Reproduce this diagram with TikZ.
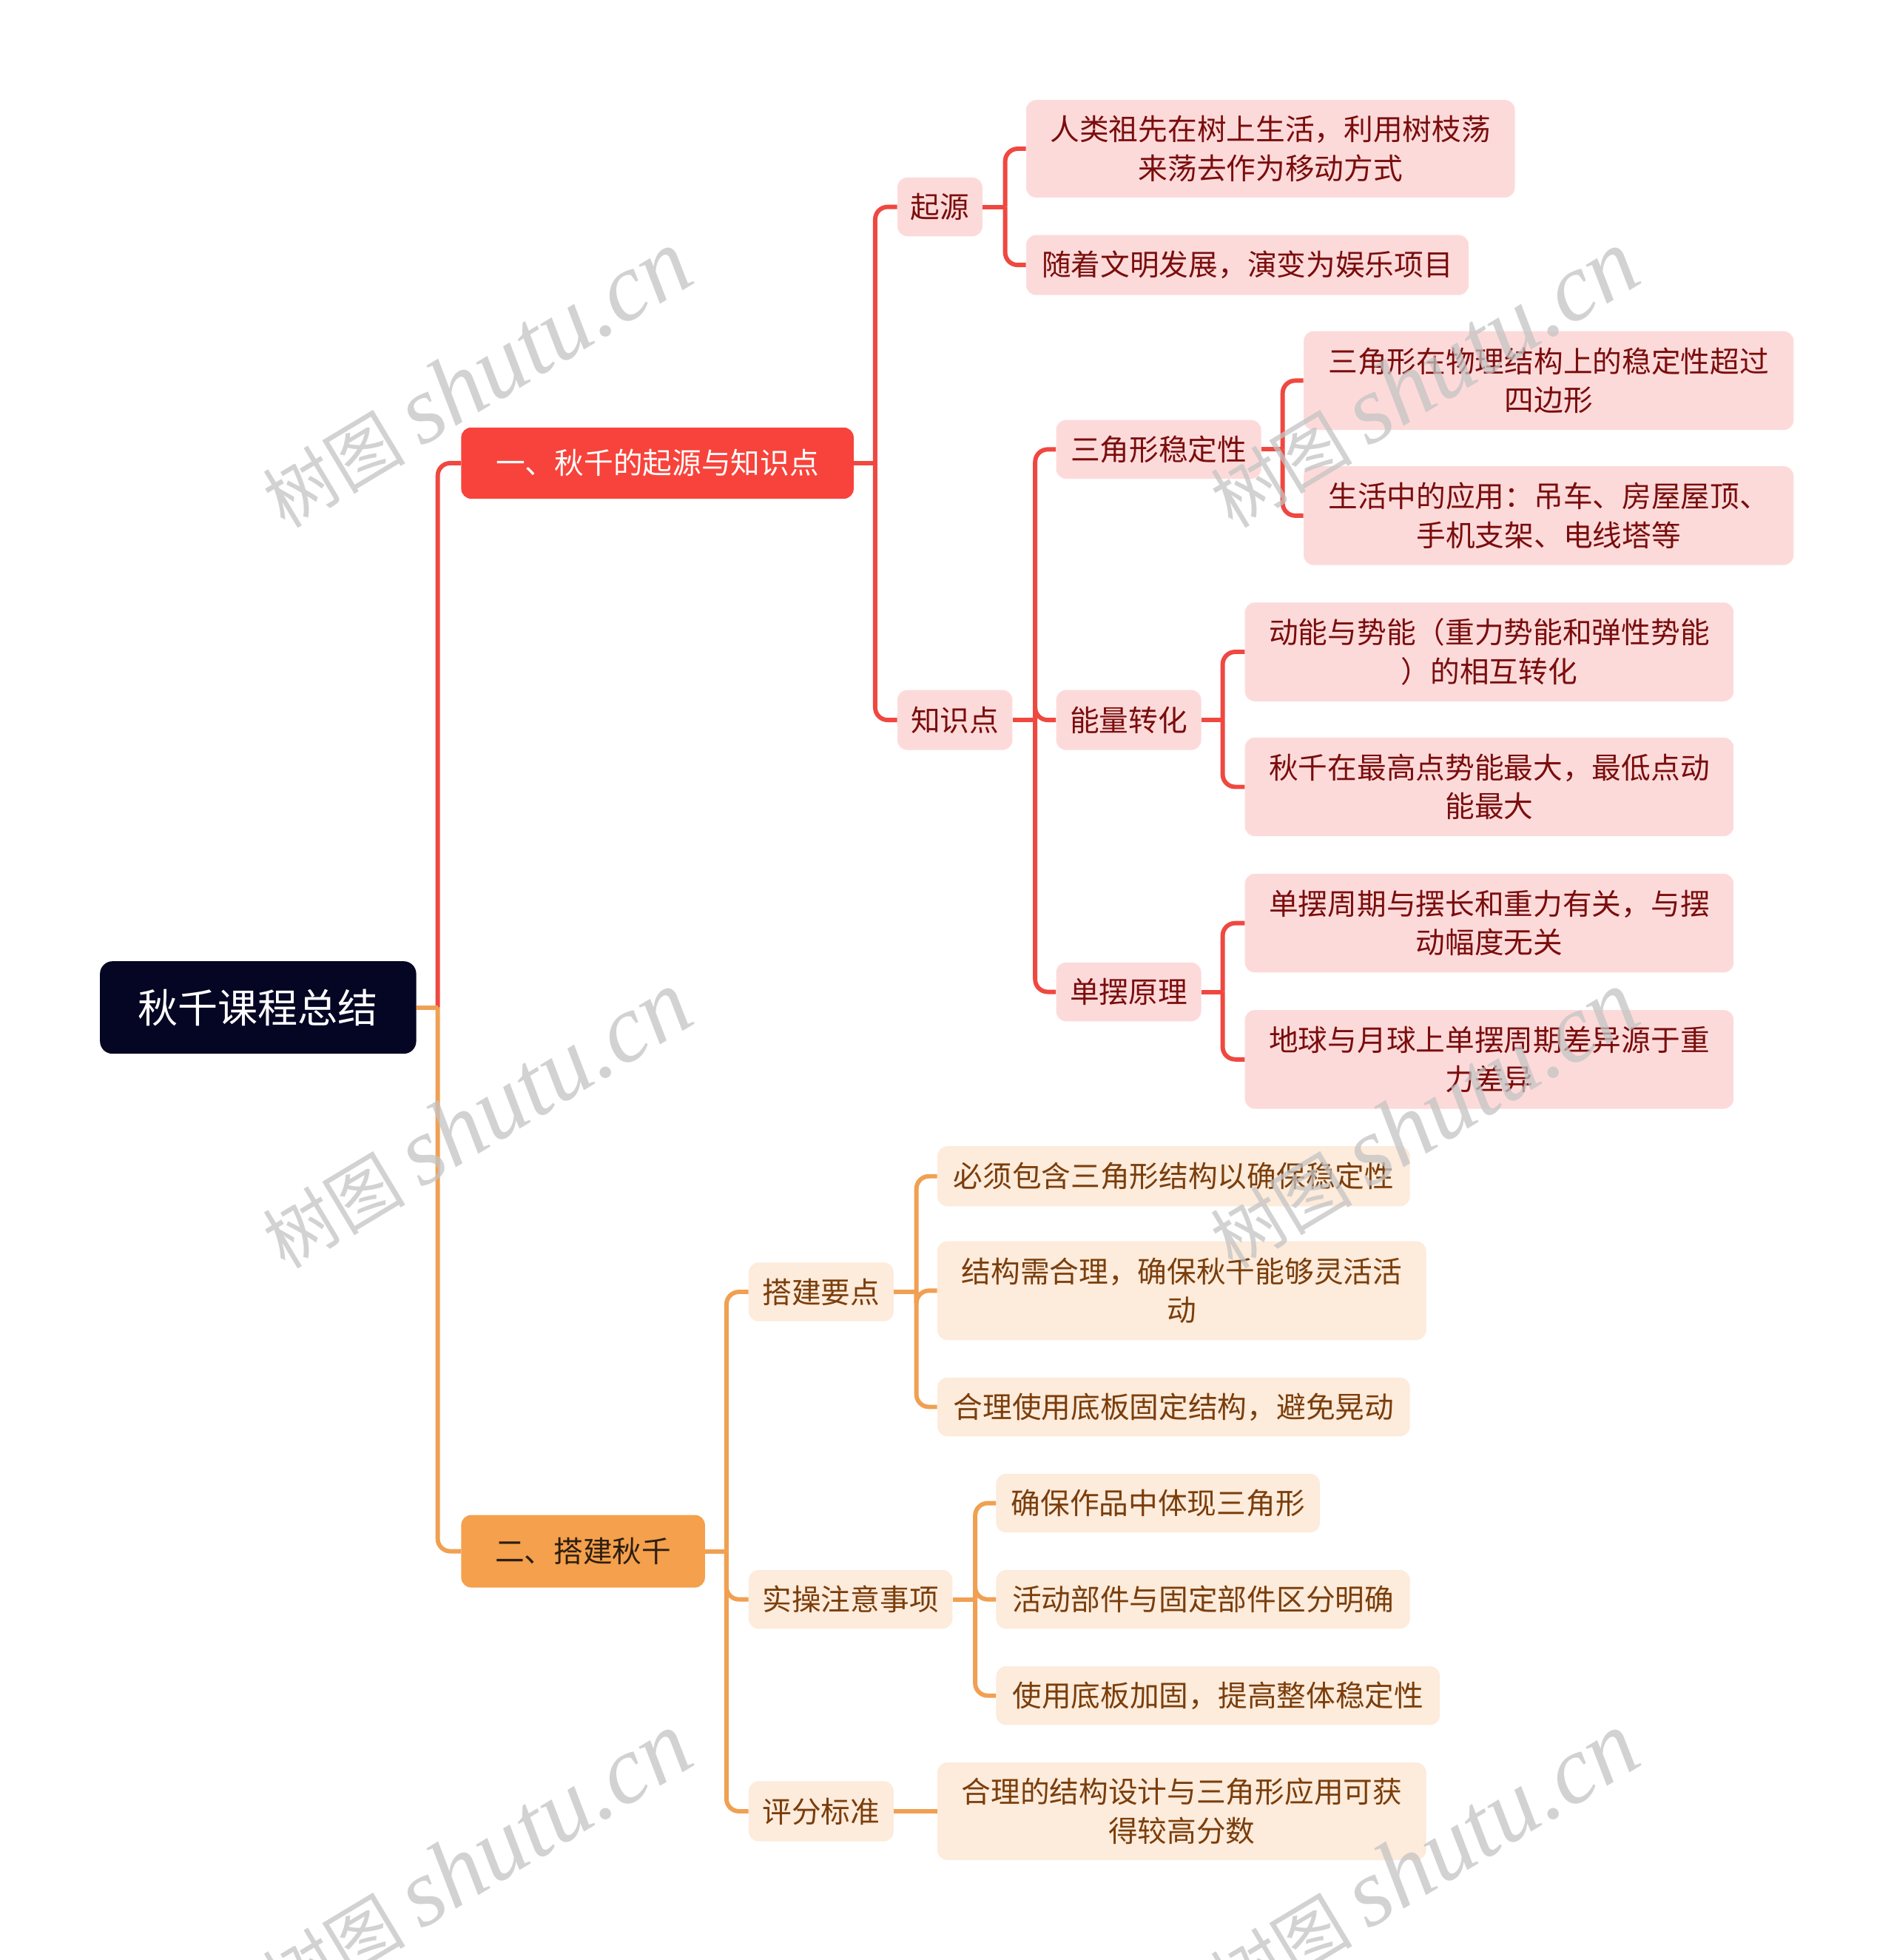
\documentclass[tikz,border=0pt]{standalone}
\usepackage{fontspec}
\setmainfont{Noto Sans CJK SC}
\newfontfamily\wmserif{Liberation Serif}
\definecolor{rootbg}{HTML}{050524}
\definecolor{redmain}{HTML}{F7433B}
\definecolor{redline}{HTML}{EF4840}
\definecolor{redfill}{HTML}{FDDADA}
\definecolor{redtext}{HTML}{7A0D0D}
\definecolor{orgmain}{HTML}{F4A04C}
\definecolor{orgline}{HTML}{F0A052}
\definecolor{orgfill}{HTML}{FDEBDB}
\definecolor{orgtext}{HTML}{7A3E0C}
\definecolor{orgdark}{HTML}{2E1E10}
\definecolor{wmgray}{HTML}{C4C4C4}
\begin{document}
\begin{tikzpicture}[x=1pt,y=-1pt,
  base/.style={rectangle,rounded corners=8pt,inner sep=0pt,align=center,font=\fontsize{23.5}{31}\selectfont},
  rootbox/.style={base,rounded corners=10pt,fill=rootbg,text=white,font=\fontsize{32}{38}\selectfont},
  redtop/.style={base,fill=redmain,text=white},
  orgtop/.style={base,fill=orgmain,text=orgdark},
  rbox/.style={base,fill=redfill,text=redtext},
  obox/.style={base,fill=orgfill,text=orgtext},
  rline/.style={draw=redline,line width=3.5pt,rounded corners=10pt},
  oline/.style={draw=orgline,line width=3.5pt,rounded corners=10pt},
  wm/.style={text=wmgray,opacity=0.75,rotate=31,font=\fontsize{57}{70}\selectfont}
]
\useasboundingbox (0,0) rectangle (1515,1568);
\fill[white] (0,0) rectangle (1515,1568);

% nodes
\node[rootbox,minimum width=253pt,minimum height=74pt] (root) at (206.5,806) {秋千课程总结};
\node[redtop,minimum width=314pt,minimum height=57pt] (r1) at (526,370.5) {一、秋千的起源与知识点};
\node[orgtop,minimum width=195pt,minimum height=58pt] (o1) at (466.5,1241) {二、搭建秋千};

\node[rbox,minimum width=68pt,minimum height=47pt] (qy) at (752,165.5) {起源};
\node[rbox,minimum width=92pt,minimum height=48pt] (zs) at (764,576) {知识点};
\node[rbox,minimum width=164pt,minimum height=47pt] (sj) at (927,359.5) {三角形稳定性};
\node[rbox,minimum width=116pt,minimum height=48pt] (nl) at (903,576) {能量转化};
\node[rbox,minimum width=116pt,minimum height=47pt] (db) at (903,793.5) {单摆原理};

\node[rbox,minimum width=391pt,minimum height=78pt] (qa) at (1016.5,119) {人类祖先在树上生活，利用树枝荡\\来荡去作为移动方式};
\node[rbox,minimum width=354pt,minimum height=48pt] (qb) at (998,212) {随着文明发展，演变为娱乐项目};
\node[rbox,minimum width=392pt,minimum height=79pt] (sa) at (1239,304.5) {三角形在物理结构上的稳定性超过\\四边形};
\node[rbox,minimum width=392pt,minimum height=79pt] (sb) at (1239,412.5) {生活中的应用：吊车、房屋屋顶、\\手机支架、电线塔等};
\node[rbox,minimum width=391pt,minimum height=79pt] (na) at (1191.5,521.5) {动能与势能（重力势能和弹性势能\\）的相互转化};
\node[rbox,minimum width=391pt,minimum height=79pt] (nb) at (1191.5,629.5) {秋千在最高点势能最大，最低点动\\能最大};
\node[rbox,minimum width=391pt,minimum height=79pt] (da) at (1191.5,738.5) {单摆周期与摆长和重力有关，与摆\\动幅度无关};
\node[rbox,minimum width=391pt,minimum height=79pt] (dbb) at (1191.5,847.5) {地球与月球上单摆周期差异源于重\\力差异};

\node[obox,minimum width=116pt,minimum height=47pt] (dj) at (657,1033.5) {搭建要点};
\node[obox,minimum width=163pt,minimum height=47pt] (sc) at (680.5,1279.5) {实操注意事项};
\node[obox,minimum width=116pt,minimum height=48pt] (pf) at (657,1449) {评分标准};

\node[obox,minimum width=378pt,minimum height=48pt] (ba) at (939,941) {必须包含三角形结构以确保稳定性};
\node[obox,minimum width=391pt,minimum height=79pt] (bb) at (945.5,1032.5) {结构需合理，确保秋千能够灵活活\\动};
\node[obox,minimum width=378pt,minimum height=47pt] (bc) at (939,1125.5) {合理使用底板固定结构，避免晃动};
\node[obox,minimum width=259pt,minimum height=47pt] (ca) at (926.5,1202.5) {确保作品中体现三角形};
\node[obox,minimum width=331pt,minimum height=47pt] (cb) at (962.5,1279.5) {活动部件与固定部件区分明确};
\node[obox,minimum width=355pt,minimum height=47pt] (cc) at (974.5,1356.5) {使用底板加固，提高整体稳定性};
\node[obox,minimum width=391pt,minimum height=78pt] (pa) at (945.5,1449) {合理的结构设计与三角形应用可获\\得较高分数};

% junction coordinates
\coordinate (jroot) at ([xshift=17pt]root.east);
\coordinate (jr1) at ([xshift=17pt]r1.east);
\coordinate (jo1) at ([xshift=17pt]o1.east);
\coordinate (jqy) at ([xshift=18pt]qy.east);
\coordinate (jzs) at ([xshift=18pt]zs.east);
\coordinate (jsj) at ([xshift=17pt]sj.east);
\coordinate (jnl) at ([xshift=17pt]nl.east);
\coordinate (jdb) at ([xshift=17pt]db.east);
\coordinate (jdj) at ([xshift=18pt]dj.east);
\coordinate (jsc) at ([xshift=18pt]sc.east);

% connectors
\draw[rline] (jroot) |- (r1.west);
\draw[oline] (jroot) |- (o1.west);
\draw[oline,rounded corners=0pt] (root.east) -- (jroot);

\draw[rline,rounded corners=0pt] (r1.east) -- (jr1);
\draw[rline] (jr1) |- (qy.west);
\draw[rline] (jr1) |- (zs.west);

\draw[rline,rounded corners=0pt] (qy.east) -- (jqy);
\draw[rline] (jqy) |- (qa.west);
\draw[rline] (jqy) |- (qb.west);

\draw[rline,rounded corners=0pt] (zs.east) -- (jzs);
\draw[rline] (jzs) |- (sj.west);
\draw[rline] (jzs) |- (nl.west);
\draw[rline] (jzs) |- (db.west);

\draw[rline,rounded corners=0pt] (sj.east) -- (jsj);
\draw[rline] (jsj) |- (sa.west);
\draw[rline] (jsj) |- (sb.west);

\draw[rline,rounded corners=0pt] (nl.east) -- (jnl);
\draw[rline] (jnl) |- (na.west);
\draw[rline] (jnl) |- (nb.west);

\draw[rline,rounded corners=0pt] (db.east) -- (jdb);
\draw[rline] (jdb) |- (da.west);
\draw[rline] (jdb) |- (dbb.west);

\draw[oline,rounded corners=0pt] (o1.east) -- (jo1);
\draw[oline] (jo1) |- (dj.west);
\draw[oline] (jo1) |- (sc.west);
\draw[oline] (jo1) |- (pf.west);

\draw[oline,rounded corners=0pt] (dj.east) -- (jdj);
\draw[oline] (jdj) |- (ba.west);
\draw[oline] (jdj) |- (bb.west);
\draw[oline] (jdj) |- (bc.west);

\draw[oline,rounded corners=0pt] (sc.east) -- (jsc);
\draw[oline] (jsc) |- (ca.west);
\draw[oline] (jsc) |- (cb.west);
\draw[oline] (jsc) |- (cc.west);

\draw[oline] (pf.east) -- (pa.west);

% watermarks
\foreach \wx in {381,1139} {
  \foreach \wy in {303,896,1489} {
    \node[wm] at (\wx,\wy) {树图 {\wmserif\itshape\fontsize{77}{90}\selectfont shutu.cn}};
  }
}
\end{tikzpicture}
\end{document}
